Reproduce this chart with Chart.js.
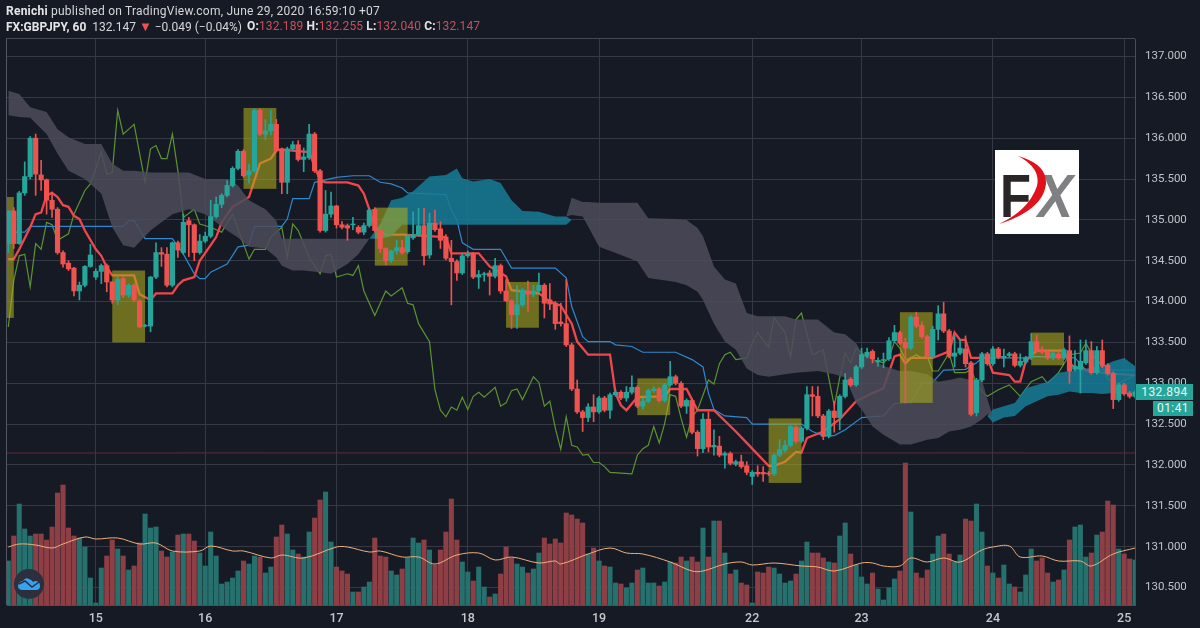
<!DOCTYPE html>
<html>
<head>
<meta charset="utf-8">
<title>FX:GBPJPY, 60</title>
<script src="https://cdn.jsdelivr.net/npm/chart.js@4/dist/chart.umd.min.js"></script>
<style>
  html, body { margin: 0; padding: 0; background: #161a25; }
  #wrap { position: relative; width: 1200px; height: 628px; overflow: hidden; background: #161a25; }
  #chart { position: absolute; left: 0; top: 0; }
  .head { position: absolute; left: 6px; color: #d6d7da; font: 12px Roboto, sans-serif; white-space: nowrap; letter-spacing: .23px; }
  .head b { font-weight: 700; color: #e6e6e8; }
  .head i { font-style: normal; color: #c9505a; }
  .frame { position: absolute; left: 6px; top: 38px; width: 1129px; height: 567px; border-left: 1px solid #555864; border-top: 1px solid #454854; box-sizing: border-box; pointer-events: none; }
  .tag { position: absolute; background: #26a69a; color: #e8f5f3; font: 12px Roboto, sans-serif; letter-spacing: .4px; text-align: center; }
</style>
</head>
<body>
<div id="wrap">
  <canvas id="chart" width="1200" height="628"></canvas>
  <div class="frame"></div>
  <div class="head" style="top:4px"><b>Renichi</b> published on TradingView.com, June 29, 2020 16:59:10 +07</div>
  <div class="head" style="top:19px;letter-spacing:0"><b>FX:GBPJPY, 60</b>&nbsp; 132.147 <span style="color:#ef5350;font-size:13px">▼</span> −0.049 (−0.04%)</div>
  <div class="head" style="top:19px;left:247px;letter-spacing:.13px"><b>O:</b><i>132.189</i> <b>H:</b><i>132.255</i> <b>L:</b><i>132.040</i> <b>C:</b><i>132.147</i></div>
  <div class="tag" style="left:1136px;top:384px;width:57px;height:16px;line-height:16px">132.894</div>
  <div class="tag" style="left:1153px;top:401px;width:40px;height:15px;line-height:15px">01:41</div>
  <svg style="position:absolute;left:995px;top:150px" width="84" height="84">
    <rect width="84" height="84" fill="#fff"/>
    <text x="5" y="67" font-family="Liberation Sans" font-weight="700" font-size="61" fill="#2a2526" textLength="31" lengthAdjust="spacingAndGlyphs">F</text>
    <text x="43" y="67" font-family="Liberation Sans" font-weight="700" font-style="italic" font-size="61" fill="#808082" textLength="35" lengthAdjust="spacingAndGlyphs">X</text>
    <path d="M23 6 Q52 14 51 34 Q48 60 4 74 Q34 60 42 36 Q46 18 23 6 Z" fill="#e0101c"/>
  </svg>
  <svg style="position:absolute;left:14px;top:569px" width="30" height="30">
    <circle cx="15" cy="15" r="15" fill="#2b2f3e"/>
    <path d="M4 17 Q5 12 9 12 Q11 8 15 10 Q18 11 19 13 L21 12 Q26 12 26 17 Q26 21 22 21 L9 21 Q4 21 4 17 Z" fill="#37a3ee"/>
    <path d="M5 15 L11 12 L18 18 L25 13" stroke="#2b2f3e" stroke-width="1.5" fill="none"/>
  </svg>
</div>
<script>
// axis
const dayTicks = [16, 36, 60, 84, 108, 136, 156, 180, 204];
const dayLabels = ['15', '16', '17', '18', '19', '22', '23', '24', '25'];
const priceTicks = [130.5, 131, 131.5, 132, 132.5, 133, 133.5, 134, 134.5, 135, 135.5, 136, 136.5, 137];
const priceLine = 132.147;

// candles, one entry per hourly bar
const open = [
  134.71,135.11,134.71,135.33,135.53,136.0,135.55,135.49,135.24,135.13,
  134.6,134.47,134.41,134.13,134.2,134.43,134.3,134.37,134.44,134.24,
  134.02,134.28,134.08,134.2,134.01,133.7,133.7,134.3,134.6,134.58,
  134.2,134.72,134.6,134.99,134.94,134.6,134.74,134.8,135.04,135.19,
  135.3,135.42,135.63,135.84,135.55,135.6,136.34,136.05,136.09,136.17,
  135.87,135.46,135.87,135.92,135.74,135.76,136.05,135.6,134.87,135.07,
  135.17,134.94,134.93,134.94,134.91,134.85,134.93,135.13,134.87,134.65,
  134.5,134.62,134.66,134.61,134.78,134.82,134.93,134.57,134.96,134.89,
  134.79,134.53,134.49,134.35,134.56,134.59,134.3,134.33,134.35,134.31,
  134.44,134.13,134.01,133.84,133.96,134.13,134.09,134.13,134.2,134.02,
  133.98,133.75,133.73,133.47,132.93,132.65,132.58,132.71,132.65,132.82,
  132.67,132.86,132.89,132.82,132.89,132.95,132.72,132.78,132.91,132.93,
  132.79,132.98,133.08,133.0,132.72,132.79,132.4,132.2,132.56,132.22,
  132.23,132.12,132.14,132.01,132.04,131.99,131.86,131.91,131.91,131.9,
  131.89,132.12,132.18,132.24,132.46,132.29,132.45,132.86,132.84,132.6,
  132.35,132.66,132.58,132.84,133.05,132.98,133.2,133.33,133.39,133.26,
  133.28,133.3,133.52,133.62,133.5,133.43,133.81,133.71,133.57,133.33,
  133.66,133.85,133.64,133.33,133.37,133.42,133.25,132.64,133.04,133.36,
  133.24,133.42,133.31,133.34,133.36,133.22,133.26,133.31,133.51,133.41,
  133.38,133.31,133.36,133.31,133.4,133.17,133.17,133.25,133.4,133.13,
  133.4,133.22,133.12,132.8,132.98,132.88,132.84
];
const high = [
  135.11,135.15,135.35,135.71,136.02,136.05,135.73,135.5,135.34,135.15,
  134.62,134.5,134.42,134.24,134.44,134.7,134.4,134.46,134.46,134.25,
  134.3,134.3,134.22,134.22,134.02,133.72,134.31,134.72,134.66,134.66,
  134.73,134.74,135.07,135.03,134.95,134.82,134.85,135.24,135.28,135.32,
  135.48,135.65,135.86,135.86,135.68,136.36,136.36,136.23,136.34,136.23,
  135.88,135.89,135.96,135.97,135.88,136.17,136.07,135.62,135.36,135.34,
  135.18,134.98,134.95,135.03,134.93,134.96,135.14,135.15,134.88,134.66,
  134.63,134.75,134.75,134.82,135.1,135.14,135.14,135.08,135.12,134.98,
  134.82,134.75,134.51,134.58,134.62,134.6,134.38,134.36,134.38,134.53,
  134.46,134.27,134.02,134.2,134.16,134.25,134.2,134.35,134.22,134.22,
  134.0,133.98,134.27,133.49,133.04,132.67,132.75,132.86,132.84,132.84,
  132.88,132.92,132.91,132.96,133.09,132.97,132.82,132.93,132.96,132.95,
  133.0,133.27,133.1,133.02,132.81,132.81,132.42,132.63,132.65,132.43,
  132.35,132.16,132.16,132.06,132.12,132.04,131.93,131.99,131.98,131.92,
  132.14,132.31,132.3,132.49,132.48,132.47,132.96,132.96,132.96,132.62,
  132.68,132.78,132.86,133.12,133.07,133.22,133.43,133.43,133.41,133.31,
  133.37,133.56,133.71,133.64,133.55,133.83,133.87,133.75,133.59,133.7,
  133.95,133.99,133.66,133.58,133.53,133.58,133.27,133.06,133.38,133.38,
  133.45,133.44,133.42,133.38,133.38,133.36,133.33,133.61,133.59,133.45,
  133.4,133.39,133.38,133.43,133.58,133.4,133.53,133.53,133.51,133.45,
  133.53,133.24,133.14,133.0,133.0,132.9,132.91
];
const low = [
  134.6,134.65,134.7,135.3,135.5,135.3,135.36,135.07,135.03,134.58,
  134.42,134.38,134.07,134.02,134.18,134.42,134.27,134.22,134.12,133.98,
  133.96,134.05,134.05,134.0,133.68,133.69,133.63,134.28,134.43,134.18,
  134.18,134.54,134.58,134.55,134.5,134.58,134.72,134.78,135.02,135.15,
  135.28,135.4,135.61,135.52,135.45,135.58,136.03,135.98,136.04,135.83,
  135.32,135.32,135.85,135.72,135.59,135.74,135.58,134.85,134.85,135.03,
  134.9,134.89,134.75,134.88,134.83,134.82,134.91,134.85,134.6,134.45,
  134.48,134.58,134.58,134.59,134.76,134.8,134.45,134.53,134.86,134.65,
  134.51,133.96,134.26,134.33,134.54,134.28,134.16,134.25,134.08,134.29,
  134.1,134.0,133.67,133.67,133.94,133.88,134.06,134.11,133.8,133.9,
  133.66,133.7,133.45,132.91,132.63,132.41,132.53,132.53,132.63,132.65,
  132.57,132.84,132.8,132.78,132.87,132.7,132.68,132.76,132.89,132.77,
  132.77,132.96,132.98,132.7,132.63,132.38,132.11,132.15,132.16,132.12,
  132.1,131.96,132.0,131.99,131.96,131.88,131.76,131.86,131.8,131.87,
  131.87,132.1,132.16,132.22,132.27,132.27,132.43,132.6,132.58,132.31,
  132.33,132.4,132.43,132.82,132.96,132.96,133.18,133.31,133.25,133.21,
  133.19,133.28,133.5,133.47,132.76,133.41,133.68,133.55,133.31,133.31,
  133.53,133.62,133.31,133.2,133.35,133.2,132.6,132.6,133.02,133.22,
  133.22,133.3,133.2,133.32,133.2,133.2,133.24,133.29,133.38,133.36,
  133.29,133.29,133.29,133.29,133.0,133.15,132.88,133.23,133.11,133.11,
  133.19,133.1,132.69,132.78,132.85,132.82,132.82
];
const close = [
  135.11,134.71,135.33,135.53,136.0,135.56,135.49,135.24,135.13,134.6,
  134.46,134.4,134.13,134.2,134.43,134.57,134.37,134.44,134.24,134.02,
  134.27,134.08,134.2,134.02,133.69,133.71,134.3,134.6,134.58,134.2,
  134.72,134.63,134.97,134.94,134.6,134.74,134.8,135.04,135.19,135.3,
  135.42,135.63,135.84,135.54,135.6,136.34,136.05,136.09,136.17,135.85,
  135.46,135.87,135.92,135.74,135.77,136.05,135.6,134.87,135.07,135.17,
  134.94,134.91,134.9,134.95,134.85,134.93,135.12,134.87,134.65,134.5,
  134.62,134.66,134.6,134.8,134.82,134.93,134.56,134.96,134.88,134.75,
  134.53,134.49,134.35,134.56,134.59,134.3,134.33,134.34,134.31,134.44,
  134.13,134.01,133.84,133.96,134.14,134.09,134.13,134.2,133.98,133.97,
  133.73,133.73,133.47,132.93,132.65,132.58,132.71,132.65,132.82,132.67,
  132.86,132.89,132.82,132.89,132.95,132.72,132.78,132.91,132.93,132.79,
  132.98,133.08,133.0,132.72,132.79,132.4,132.2,132.56,132.22,132.24,
  132.12,132.14,132.02,132.04,131.98,131.91,131.91,131.89,131.89,131.89,
  132.12,132.19,132.24,132.47,132.29,132.45,132.86,132.84,132.6,132.35,
  132.66,132.58,132.84,133.04,132.98,133.2,133.35,133.38,133.3,133.28,
  133.29,133.52,133.62,133.49,133.43,133.81,133.7,133.57,133.33,133.66,
  133.85,133.64,133.33,133.37,133.43,133.24,132.62,133.04,133.36,133.24,
  133.42,133.32,133.33,133.36,133.22,133.27,133.31,133.51,133.4,133.38,
  133.31,133.37,133.31,133.41,133.15,133.21,133.27,133.4,133.13,133.4,
  133.21,133.12,132.8,132.98,132.87,132.84,132.894
];
const volume = [
  44,69,101,76,69,71,71,65,78,112,120,77,69,67,58,27,2,37,49,65,
  56,49,35,39,62,91,77,78,54,48,53,70,71,71,64,52,39,73,49,21,
  23,27,34,44,41,49,48,32,38,68,80,71,55,51,48,73,87,105,113,63,
  38,34,31,13,13,18,23,67,49,48,34,30,36,47,67,62,65,55,40,55,
  73,106,65,43,33,24,38,18,8,11,31,58,47,41,38,32,36,52,67,61,
  66,62,92,90,86,82,51,57,44,39,38,22,21,17,22,35,37,22,22,19,
  23,43,42,48,44,48,43,77,48,84,84,52,31,35,22,20,2,33,32,38,
  37,31,22,24,31,44,63,52,52,47,43,42,69,82,51,40,28,21,32,16,
  5,17,26,34,142,93,32,27,35,51,69,71,51,43,50,86,84,101,73,39,
  32,27,40,21,18,13,30,56,44,47,32,23,25,35,65,78,80,48,52,70,
  73,104,100,56,51,46,45
];

// volume moving average
const volMaX = [0,2,5,8,10,14,16,20,24,27,30,35,37,41,43,48,50,54,60,62,66,68,72,75,78,82,86,89,92,97,100,101,106,110,113,116,121,125,127,131,134,136,140,145,148,151,156,158,160,163,165,168,171,174,178,180,183,185,189,192,196,198,202,206];
const volMaY = [58,61,60,57,61,68,66,67,61,62,54,54,59,54,54,47,50,47,58,58,53,54,48,48,41,50,52,45,48,42,44,41,51,57,52,51,43,34,34,41,43,40,42,39,38,34,42,42,39,39,47,43,47,43,55,58,59,48,49,44,44,39,51,57];

// conversion line
const tenkanX = [0,1,2,4,5,6,7,8,9,10,11,12,13,14,16,17,18,19,23,24,26,27,30,31,32,34,35,37,38,39,41,44,46,48,49,50,55,57,58,62,64,65,66,67,69,72,80,81,86,88,91,92,97,99,101,103,104,106,110,111,112,113,115,120,121,124,126,129,133,135,139,140,142,144,145,146,149,152,155,158,160,162,163,164,165,169,172,173,174,175,176,179,180,183,184,185,186,188,193,194,195,198,201,206];
const tenkanY = [134.52,134.52,134.64,134.91,135.07,135.09,135.3,135.33,135.28,135.18,135.16,135.05,135.01,134.87,134.64,134.56,134.42,134.32,134.32,134.09,134.02,134.1,134.1,134.2,134.26,134.3,134.5,134.69,134.79,134.97,135.16,135.28,135.69,135.75,135.85,135.86,135.83,135.48,135.46,135.46,135.42,135.32,135.13,134.91,134.82,134.82,134.79,134.59,134.59,134.43,134.31,134.14,134.1,134,133.95,133.73,133.51,133.35,133.35,132.88,132.73,132.67,132.83,132.84,132.93,132.93,132.67,132.67,132.41,132.27,131.99,131.99,132.04,132.16,132.15,132.33,132.41,132.56,132.78,132.88,132.94,133.33,133.35,133.24,133.31,133.31,133.39,133.62,133.53,133.53,133.31,133.31,133.13,133.1,133.02,133.02,133.27,133.4,133.4,133.25,133.19,133.15,133.12,133.1];

// base line
const kijunX = [1,3,4,21,22,23,25,30,32,34,35,36,37,40,42,44,45,50,51,52,55,56,60,63,66,68,70,72,73,80,81,82,83,85,90,92,100,102,103,105,106,110,111,114,116,122,125,127,128,129,131,135,136,145,147,149,151,153,156,160,162,165,167,169,171,175,177,178,186,187,195,197,206];
const kijunY = [134.85,134.85,134.92,134.92,134.99,134.99,134.77,134.77,134.58,134.34,134.28,134.28,134.36,134.46,134.67,134.69,134.92,134.92,135.01,135.26,135.26,135.46,135.52,135.54,135.54,135.46,135.44,135.39,135.33,135.31,135.12,135,134.72,134.64,134.64,134.41,134.41,134.29,133.94,133.57,133.51,133.51,133.47,133.45,133.38,133.38,133.29,133.2,132.88,132.68,132.6,132.58,132.5,132.5,132.41,132.36,132.36,132.43,132.58,132.6,132.75,132.76,133,133.01,133.16,133.17,133.25,133.31,133.31,133.33,133.31,133.16,133.16];

// lagging line
const chikouX = [0,1,2,3,4,5,6,7,8,9,11,12,14,15,17,18,19,20,21,23,25,26,27,28,29,30,31,32,34,35,37,39,41,44,45,47,48,50,51,52,53,55,57,58,59,60,62,63,64,65,67,69,70,72,73,74,75,77,78,79,80,81,82,83,84,85,86,87,89,90,91,92,93,94,96,97,98,99,100,101,102,103,104,105,106,107,108,109,110,114,115,116,117,118,119,120,121,122,123,124,125,126,128,129,130,131,132,133,135,136,137,139,140,142,143,144,145,147,149,151,152,153,154,155,156,158,160,161,162,163,164,165,166,167,168,169,170,172,173,175,176,177,178,179,181,183,185,187,189,190,192,194,196,197,198,200,201,203,206];
const chikouY = [133.69,134.26,134.56,134.58,134.18,134.71,134.64,134.97,134.94,134.75,134.83,135.07,135.36,135.44,135.83,135.56,135.58,136.34,136.05,136.17,135.46,135.87,135.91,135.75,135.75,136.05,135.6,135.03,135.13,134.95,134.91,134.85,135.07,134.52,134.64,134.64,134.79,134.91,134.54,134.95,134.87,134.54,134.34,134.56,134.58,134.3,134.34,134.32,134.44,134.13,133.83,134.13,134.07,134.17,133.98,133.96,133.73,133.51,132.92,132.67,132.59,132.71,132.67,132.83,132.68,132.84,132.89,132.83,132.95,132.72,132.76,132.91,132.93,132.8,133.08,133.01,132.72,132.78,132.45,132.19,132.59,132.24,132.22,132.12,132.13,132.03,132.03,131.98,131.91,131.89,132.12,132.2,132.24,132.47,132.27,132.51,132.86,132.84,132.57,132.34,132.59,132.67,133.04,132.99,133.24,133.35,133.38,133.29,133.31,133.49,133.62,133.44,133.8,133.62,133.31,133.78,133.86,133.35,133.41,132.72,133.07,133.37,133.25,133.43,133.37,133.29,133.25,133.31,133.51,133.43,133.29,133.31,133.35,133.31,133.33,133.15,133.15,133.37,133.13,133.13,133.17,133,132.9,132.84,132.92,132.98,132.84,133.02,133.08,133,133.13,133.35,133.37,133.49,133.37,133.21,133.05,133,133.1];

// clouds, top and bottom edge of each piece
const grayAX = [0,2,4,7,9,11,14,17,19,21,23,26,28,30,33,36,40,42,44,47,49,50,52,54,57,59,62,64,66];
const grayATop = [136.58,136.54,136.38,136.32,136.11,136.01,135.93,135.93,135.69,135.6,135.6,135.58,135.58,135.58,135.58,135.5,135.5,135.42,135.24,135.13,134.99,134.77,134.77,134.77,134.77,134.77,134.77,134.77,134.77];
const grayABot = [136.28,136.26,136.25,136.05,135.81,135.6,135.5,135.32,134.91,134.69,134.66,134.87,134.97,135.07,135.13,135.07,134.87,134.78,134.67,134.65,134.54,134.44,134.38,134.38,134.36,134.34,134.46,134.58,134.77];
const tealAX = [66,68,70,72,74,77,80,82,83,85,88,90,92,94,97,100,102,103];
const tealATop = [134.77,134.95,135.24,135.27,135.35,135.53,135.55,135.63,135.51,135.47,135.5,135.45,135.24,135.11,135.1,135.04,135.04,135];
const tealABot = [134.77,134.77,134.8,134.94,134.94,134.94,134.94,134.94,134.94,134.94,134.94,134.94,134.94,134.94,134.94,134.94,134.94,135];
const grayBX = [102,103,105,106,108,112,115,117,122,124,126,127,129,131,133,135,137,139,142,144,148,151,153,155,156,158,160,163,165,168,170,172,174,176,178,179,180];
const grayBTop = [135.04,135.27,135.22,135.22,135.21,135.21,135.21,135.02,135.01,135,134.9,134.8,134.43,134.27,134.22,133.86,133.82,133.82,133.82,133.78,133.78,133.62,133.6,133.49,133.37,133.29,133.21,133.15,133.15,133.11,133.02,133.04,133.07,133.04,133.04,132.8,132.6];
const grayBBot = [135.04,135.06,135.04,134.92,134.67,134.57,134.49,134.29,134.24,134.2,134.12,134.02,133.73,133.51,133.41,133.18,133.1,133.08,133.11,133.13,133.15,133.11,133.07,132.76,132.68,132.47,132.37,132.25,132.25,132.31,132.33,132.41,132.43,132.47,132.56,132.62,132.6];
const tealBX = [179,180,182,184,186,188,190,192,194,196,198,200,202,204,206];
const tealBTop = [132.6,132.68,132.72,132.76,132.94,132.98,133.02,133.13,133.15,133.17,133.19,133.21,133.27,133.31,133.21];
const tealBBot = [132.6,132.52,132.58,132.6,132.72,132.78,132.84,132.86,132.9,132.88,132.88,132.87,132.88,132.87,132.86];

// highlighted boxes
const boxFrom = [-0.24, 19, 43, 67, 91, 115, 139, 163, 187];
const boxTo = [1, 25, 49, 73, 97, 121, 145, 169, 193];
const boxTop = [135.28, 134.38, 136.37, 135.15, 134.24, 133.06, 132.57, 133.87, 133.62];
const boxBottom = [133.8, 133.5, 135.38, 134.44, 133.68, 132.61, 131.78, 132.76, 133.22];

const UP = '#26a69a', DOWN = '#ef5350';
const barIndex = open.map((v, i) => i);
const isUp = barIndex.map(i => close[i] >= open[i]);
const pts = (xs, ys) => xs.map((x, k) => ({ x, y: ys[k] }));
const lineSet = (label, xs, ys, color, width, order, extra) => Object.assign({
  type: 'line', label, data: pts(xs, ys), borderColor: color, borderWidth: width,
  pointRadius: 0, tension: 0, order, yAxisID: 'y', fill: false
}, extra);
const cloud = (label, xs, top, bottom, color, order) => [
  lineSet(label, xs, top, 'transparent', 0, order, { fill: { target: '+1' }, backgroundColor: color }),
  lineSet(label + ' bottom', xs, bottom, 'transparent', 0, order)
];

// yellow boxes sit over the lines and clouds but under the candles
const boxPlugin = {
  id: 'boxes',
  beforeDatasetDraw(chart, args) {
    if (chart.data.datasets[args.index].label !== 'wicks') return;
    const { ctx, scales: { x, y }, chartArea: a } = chart;
    ctx.save();
    ctx.fillStyle = 'rgba(172,172,28,0.58)';
    boxFrom.forEach((f, k) => {
      const l = Math.max(x.getPixelForValue(f), a.left);
      const r = x.getPixelForValue(boxTo[k]);
      const t = y.getPixelForValue(boxTop[k]);
      ctx.fillRect(l, t, r - l, y.getPixelForValue(boxBottom[k]) - t);
    });
    ctx.restore();
  }
};

new Chart(document.getElementById('chart'), {
  type: 'bar',
  data: {
    datasets: [
      {
        label: 'volume', yAxisID: 'yVol', order: 20, barThickness: 4.4, grouped: false,
        data: barIndex.map(i => ({ x: i, y: volume[i] })),
        backgroundColor: isUp.map(u => u ? '#26706e' : '#8e3f45')
      },
      lineSet('volume ma', volMaX, volMaY, '#efb07a', 1, 19, { yAxisID: 'yVol', tension: 0.35 }),
      lineSet('last', [-0.24, 205.98], [priceLine, priceLine], '#5f2b3a', 1, 18),
      lineSet('chikou', chikouX, chikouY, '#5c9430', 1.2, 12),
      lineSet('kijun', kijunX, kijunY, '#2e88cf', 1.2, 11),
      lineSet('tenkan', tenkanX, tenkanY, '#f0474c', 2.3, 10),
      ...cloud('cloud 1', grayAX, grayATop, grayABot, 'rgba(76,76,90,0.86)', 5),
      ...cloud('cloud 2', tealAX, tealATop, tealABot, 'rgba(22,124,150,0.86)', 5),
      ...cloud('cloud 3', grayBX, grayBTop, grayBBot, 'rgba(76,76,90,0.86)', 5),
      ...cloud('cloud 4', tealBX, tealBTop, tealBBot, 'rgba(22,124,150,0.86)', 5),
      {
        label: 'wicks', order: 2, barThickness: 1, grouped: false,
        data: barIndex.map(i => ({ x: i, y: [low[i], high[i]] })),
        backgroundColor: isUp.map(u => u ? UP : DOWN)
      },
      {
        label: 'bodies', order: 1, barThickness: 4.5, grouped: false,
        data: barIndex.map(i => ({ x: i, y: [open[i], close[i]] })),
        backgroundColor: isUp.map(u => u ? UP : DOWN)
      }
    ]
  },
  plugins: [boxPlugin],
  options: {
    responsive: false,
    animation: false,
    layout: { padding: { left: 7, top: 39, right: 0, bottom: 0 } },
    plugins: { legend: { display: false }, tooltip: { enabled: false } },
    scales: {
      x: {
        type: 'linear', min: -0.24, max: 205.98, offset: false,
        afterBuildTicks: s => { s.ticks = dayTicks.map(value => ({ value })); },
        afterFit: s => { s.height = 23; },
        grid: { color: '#363845', drawTicks: false, offset: false },
        border: { color: '#4a4d5a' },
        ticks: {
          color: '#c6c7cb', autoSkip: false, maxRotation: 0, padding: 6,
          font: { family: 'Roboto', size: 12.5, weight: '500' },
          callback: v => dayLabels[dayTicks.indexOf(v)]
        }
      },
      y: {
        position: 'right', min: 130.286, max: 137.214,
        afterBuildTicks: s => { s.ticks = priceTicks.map(value => ({ value })); },
        afterFit: s => { s.width = 65; },
        grid: { color: '#363845', drawTicks: false },
        border: { color: '#4a4d5a' },
        ticks: {
          color: '#c0c2c8', padding: 10,
          font: { family: 'Roboto', size: 11.5 },
          callback: v => v.toFixed(3)
        }
      },
      yVol: { display: false, min: 0, max: 566 }
    }
  }
});
</script>
</body>
</html>
